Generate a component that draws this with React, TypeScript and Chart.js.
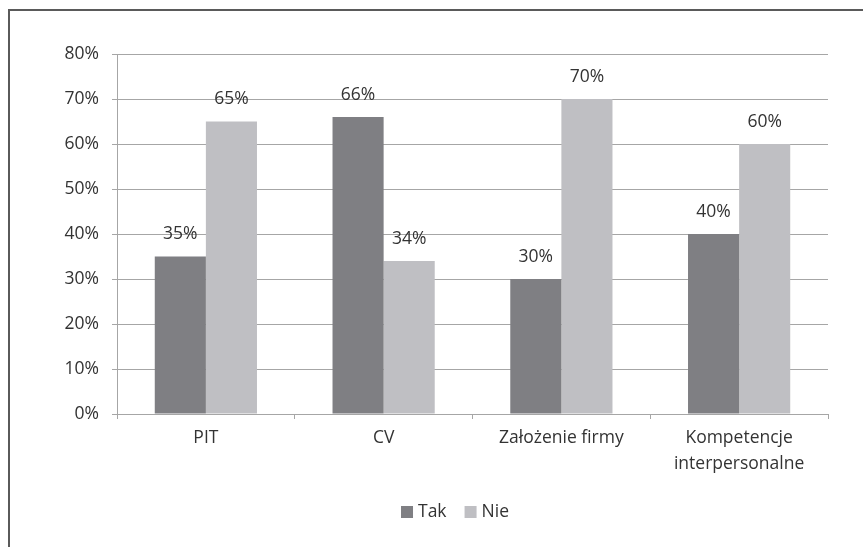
import React, { useEffect, useRef } from "react";
import { Chart, registerables } from "chart.js";

Chart.register(...registerables);

const categories: (string | string[])[] = ["PIT", "CV", "Założenie firmy", ["Kompetencje", "interpersonalne"]];
const takValues = [35, 66, 30, 40];
const nieValues = [65, 34, 70, 60];
const seriesNames = ["Tak", "Nie"];
const yTicks = [0, 10, 20, 30, 40, 50, 60, 70, 80];

const FONT = "'Open Sans', Lato, sans-serif";
const FS = 17.5;
const TEXT = "#333333";
const GRID = "#a6a6a6";
const COLORS = ["#7f7f83", "#bfbfc3"];

const decorPlugin = {
  id: "decor",
  afterDraw(chart: any) {
    const ctx = chart.ctx as CanvasRenderingContext2D;
    ctx.save();
    // outer frame (top + left)
    ctx.strokeStyle = "#5a5a5a";
    ctx.lineWidth = 2;
    ctx.beginPath();
    ctx.moveTo(9, 547);
    ctx.lineTo(9, 10);
    ctx.lineTo(863, 10);
    ctx.stroke();

    // data labels
    ctx.font = `${FS}px ${FONT}`;
    ctx.fillStyle = TEXT;
    ctx.textAlign = "center";
    ctx.textBaseline = "middle";
    chart.data.datasets.forEach((ds: any, di: number) => {
      const meta = chart.getDatasetMeta(di);
      meta.data.forEach((bar: any, i: number) => {
        ctx.fillText(ds.data[i] + "%", bar.x, bar.y - 22);
      });
    });

    // legend
    const items = chart.data.datasets.map((ds: any) => ({ label: ds.label, color: ds.backgroundColor }));
    const box = 12;
    const gapBoxText = 5;
    const gapItems = 18;
    const widths = items.map((it: any) => box + gapBoxText + ctx.measureText(it.label).width);
    const total = widths.reduce((a: number, b: number) => a + b, 0) + gapItems * (items.length - 1);
    let x = 455 - total / 2;
    const y = 512;
    ctx.textAlign = "left";
    items.forEach((it: any, k: number) => {
      ctx.fillStyle = it.color;
      ctx.fillRect(x, y - box / 2, box, box);
      ctx.fillStyle = TEXT;
      ctx.fillText(it.label, x + box + gapBoxText, y);
      x += widths[k] + gapItems;
    });
    ctx.restore();
  },
};

export default function App() {
  const ref = useRef<HTMLCanvasElement | null>(null);
  useEffect(() => {
    if (!ref.current) return;
    const chart = new Chart(ref.current, {
      type: "bar",
      data: {
        labels: categories,
        datasets: [
          { label: seriesNames[0], data: takValues, backgroundColor: COLORS[0], categoryPercentage: 0.575, barPercentage: 1 },
          { label: seriesNames[1], data: nieValues, backgroundColor: COLORS[1], categoryPercentage: 0.575, barPercentage: 1 },
        ],
      },
      options: {
        animation: false,
        responsive: false,
        maintainAspectRatio: false,
        layout: { padding: { left: 0, right: 35, top: 54, bottom: 0 } },
        plugins: { legend: { display: false }, tooltip: { enabled: false } },
        scales: {
          x: {
            grid: { display: true, drawOnChartArea: false, drawTicks: true, tickLength: 5, color: GRID },
            border: { display: true, color: GRID },
            ticks: { color: TEXT, font: { family: FONT, size: FS, lineHeight: 1.5 }, padding: 6, maxRotation: 0, autoSkip: false },
            afterFit: (s: any) => { s.height = 133; },
          },
          y: {
            min: 0,
            max: 80,
            grid: { color: GRID, drawTicks: true, tickLength: 5 },
            border: { display: true, color: GRID },
            afterBuildTicks: (s: any) => { s.ticks = yTicks.map((v) => ({ value: v })); },
            ticks: { color: TEXT, font: { family: FONT, size: FS }, padding: 13, callback: (v: any) => v + "%" },
            afterFit: (s: any) => { s.width = 117; },
          },
        },
      },
      plugins: [decorPlugin],
    });
    return () => chart.destroy();
  }, []);
  return (
    <div style={{ position: "fixed", left: 0, top: 0, width: 863, height: 547, background: "#fff" }}>
      <canvas ref={ref} width={863} height={547} style={{ display: "block", width: 863, height: 547 }} />
    </div>
  );
}
